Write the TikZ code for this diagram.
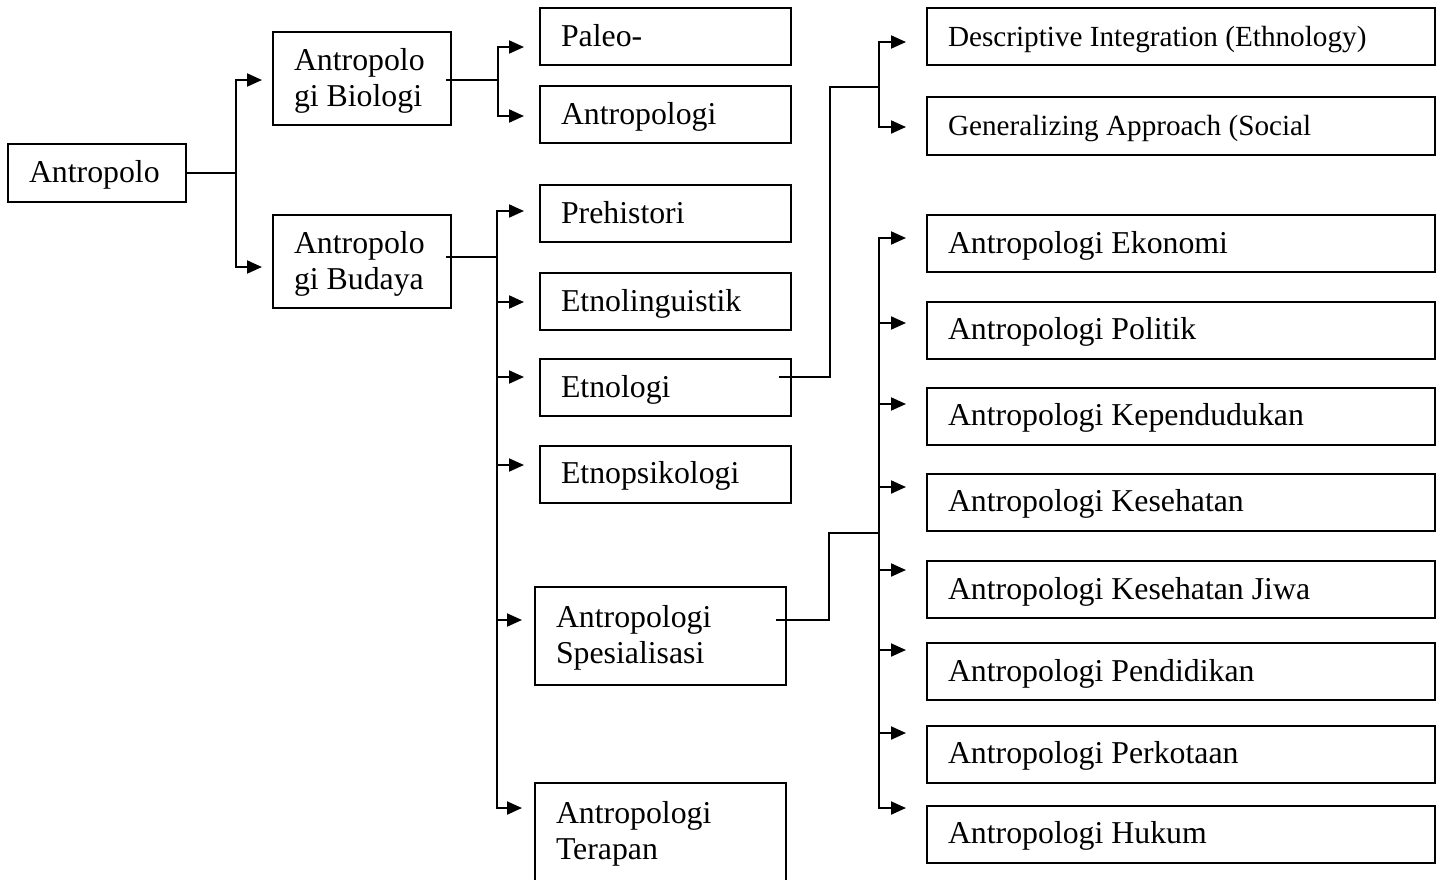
\documentclass[tikz,border=0pt]{standalone}
\usepackage{fontspec}
\setmainfont{Liberation Serif}
\usetikzlibrary{calc,arrows.meta}
\newcommand\isi{\fontsize{15.9}{18}\selectfont}
\newcommand\isikecil{\fontsize{14.6}{17}\selectfont}
\tikzset{
	kotak/.style={draw, line width=1pt, align=flush left, inner xsep=10.5pt, inner ysep=0pt, text height=13pt, text depth=3.5pt, font=\isi},
	duabaris/.style={text depth=21.5pt},
	garis/.style={line width=1pt},
	panah/.style={line width=1pt, -{Triangle[length=7.5pt,width=6.5pt]}}
}

\begin{document}
\begin{tikzpicture}[x=0.5pt,y=-0.5pt]
				%%%%% START %%%%%
				\def\xkiri{362}
				\def\xtengah{665.5}
				\def\xkanan{1181}
				\def\wkiri{68pt}
				\def\wtengah{104.5pt}
				\def\wkanan{233pt}
				\def\hsatu{28.5pt}
				\def\hdua{46.5pt}
				
				\useasboundingbox (0,0) rectangle (1445,879);
				
				\node[kotak, text width=\wkiri, minimum height=29pt] (akar) at (97,173) {Antropolo};
				\node[kotak, duabaris, text width=\wkiri, minimum height=\hdua] (bio) at (\xkiri,78.5) {Antropolo\\gi Biologi};
				\node[kotak, duabaris, text width=\wkiri, minimum height=\hdua] (bud) at (\xkiri,261.5) {Antropolo\\gi Budaya};
				
				\node[kotak, text width=\wtengah, minimum height=\hsatu] (paleo) at (\xtengah,36.5) {Paleo-};
				\node[kotak, text width=\wtengah, minimum height=\hsatu] (antbio) at (\xtengah,114.5) {Antropologi};
				\node[kotak, text width=\wtengah, minimum height=\hsatu] (pre) at (\xtengah,213.5) {Prehistori};
				\node[kotak, text width=\wtengah, minimum height=\hsatu] (lingu) at (\xtengah,301.5) {Etnolinguistik};
				\node[kotak, text width=\wtengah, minimum height=\hsatu] (etno) at (\xtengah,387.5) {Etnologi};
				\node[kotak, text width=\wtengah, minimum height=\hsatu] (psi) at (\xtengah,474) {Etnopsikologi};
				\node[kotak, duabaris, text width=\wtengah, minimum height=49pt] (spes) at (\xtengah-5,636) {Antropologi\\Spesialisasi};
				\node[kotak, duabaris, text width=\wtengah, minimum height=49pt] (terap) at (\xtengah-5,832) {Antropologi\\Terapan};
				
				\node[kotak, text width=\wkanan, minimum height=\hsatu, font=\isikecil] (desk) at (\xkanan,36.5) {Descriptive Integration (Ethnology)};
				\node[kotak, text width=\wkanan, minimum height=29pt, font=\isikecil] (gen) at (\xkanan,126) {Generalizing Approach (Social};
				\node[kotak, text width=\wkanan, minimum height=\hsatu] (eko) at (\xkanan,243.5) {Antropologi Ekonomi};
				\node[kotak, text width=\wkanan, minimum height=\hsatu] (pol) at (\xkanan,330) {Antropologi Politik};
				\node[kotak, text width=\wkanan, minimum height=\hsatu] (kep) at (\xkanan,416) {Antropologi Kependudukan};
				\node[kotak, text width=\wkanan, minimum height=\hsatu] (kes) at (\xkanan,502) {Antropologi Kesehatan};
				\node[kotak, text width=\wkanan, minimum height=\hsatu] (jiwa) at (\xkanan,589.5) {Antropologi Kesehatan Jiwa};
				\node[kotak, text width=\wkanan, minimum height=\hsatu] (pend) at (\xkanan,671.5) {Antropologi Pendidikan};
				\node[kotak, text width=\wkanan, minimum height=\hsatu] (kota) at (\xkanan,754) {Antropologi Perkotaan};
				\node[kotak, text width=\wkanan, minimum height=\hsatu] (huk) at (\xkanan,834) {Antropologi Hukum};
				
				% cabang dari akar
				\coordinate (simpulA) at (236,173);
				\draw[garis] (akar.east) -- (simpulA);
				\draw[panah, shorten >=5pt] (simpulA) |- ($(bio.west)+(0,1.5)$);
				\draw[panah, shorten >=5pt] (simpulA) |- ($(bud.west)+(0,5.5)$);
				
				% cabang biologi
				\coordinate (simpulB) at (498,80);
				\draw[garis] ($(bio.east)+(-6,1.5)$) -- (simpulB);
				\draw[panah, shorten >=7.5pt] (simpulB) |- ($(paleo.west)+(0,10.5)$);
				\draw[panah, shorten >=7.5pt] (simpulB) |- ($(antbio.west)+(0,1.5)$);
				
				% cabang budaya
				\coordinate (simpulC) at (497,257);
				\draw[garis] ($(bud.east)+(-6,-4.5)$) -- (simpulC);
				\draw[panah, shorten >=7.5pt] (simpulC) |- ($(pre.west)+(0,-2.5)$);
				\draw[panah, shorten >=7.5pt] (simpulC) |- ($(lingu.west)+(0,0.5)$);
				\draw[panah, shorten >=7.5pt] (simpulC) |- ($(etno.west)+(0,-10.5)$);
				\draw[panah, shorten >=7.5pt] (simpulC) |- ($(psi.west)+(0,-9)$);
				\draw[panah, shorten >=6pt] (simpulC) |- ($(spes.west)+(0,-16)$);
				\draw[panah, shorten >=6pt] (simpulC) |- ($(terap.west)+(0,-24)$);
				
				% cabang etnologi
				\coordinate (simpulD) at (879,87);
				\draw[garis] ($(etno.east)+(-13,-11)$) -| (830,87) -- (simpulD);
				\draw[panah, shorten >=10pt] (simpulD) |- ($(desk.west)+(0,5.5)$);
				\draw[panah, shorten >=10pt] (simpulD) |- ($(gen.west)+(0,1)$);
				
				% cabang spesialisasi
				\coordinate (simpulE) at (879,533);
				\draw[garis] ($(spes.east)+(-11,-16)$) -| (829,533) -- (simpulE);
				\draw[panah, shorten >=10pt] (simpulE) |- ($(eko.west)+(0,-5.5)$);
				\draw[panah, shorten >=10pt] (simpulE) |- ($(pol.west)+(0,-7)$);
				\draw[panah, shorten >=10pt] (simpulE) |- ($(kep.west)+(0,-12)$);
				\draw[panah, shorten >=10pt] (simpulE) |- ($(kes.west)+(0,-15)$);
				\draw[panah, shorten >=10pt] (simpulE) |- ($(jiwa.west)+(0,-19.5)$);
				\draw[panah, shorten >=10pt] (simpulE) |- ($(pend.west)+(0,-21.5)$);
				\draw[panah, shorten >=10pt] (simpulE) |- ($(kota.west)+(0,-21)$);
				\draw[panah, shorten >=10pt] (simpulE) |- ($(huk.west)+(0,-26)$);
				%%%%% END %%%%%
\end{tikzpicture}
\end{document}
